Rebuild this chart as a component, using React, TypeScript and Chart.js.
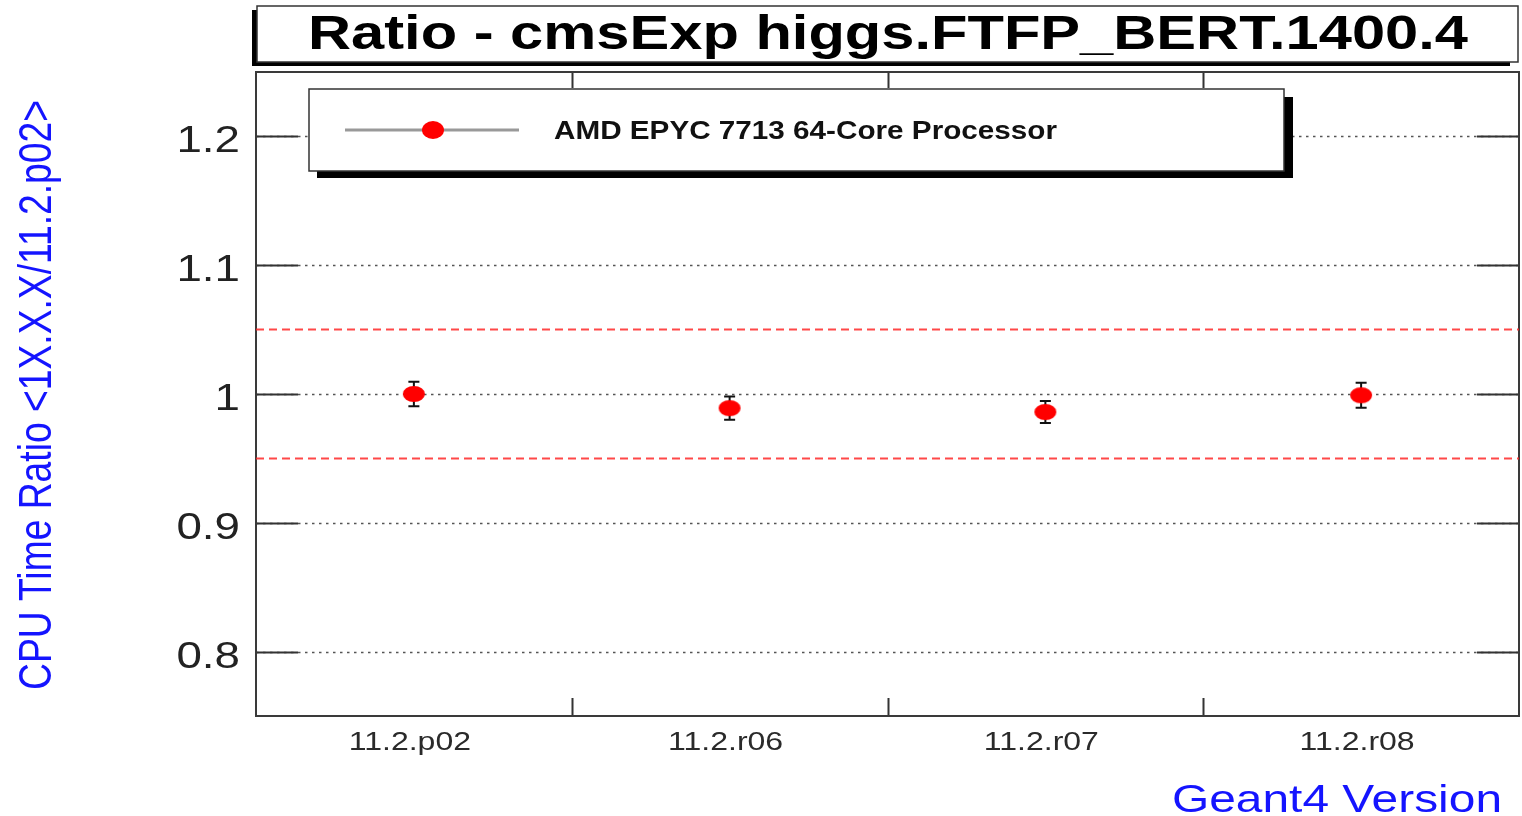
import React, { useEffect, useRef } from "react";
import { Chart, registerables } from "chart.js";

Chart.register(...registerables);

// ---------- data ----------
const versions = ["11.2.p02", "11.2.r06", "11.2.r07", "11.2.r08"];
const ratios = [1.0, 0.989, 0.986, 0.999];
const errors = [0.0095, 0.009, 0.0085, 0.0097];
const yTickValues = [0.8, 0.9, 1.0, 1.1, 1.2];
const yTickLabels = ["0.8", "0.9", "1", "1.1", "1.2"];
const limitValues = [1.05, 0.95];
const titleText = "Ratio - cmsExp higgs.FTFP_BERT.1400.4";
const legendLabel = "AMD EPYC 7713 64-Core Processor";
const yAxisTitle = "CPU Time Ratio <1X.X.X/11.2.p02>";
const xAxisTitle = "Geant4 Version";

const FONT = '"Liberation Sans", Arial, Helvetica, sans-serif';

function makeMarker(rx: number, ry: number): HTMLCanvasElement {
  const c = document.createElement("canvas");
  c.width = rx * 2 + 2;
  c.height = ry * 2 + 2;
  const g = c.getContext("2d")!;
  g.fillStyle = "#ff0000";
  g.beginPath();
  g.ellipse(rx + 1, ry + 1, rx, ry, 0, 0, Math.PI * 2);
  g.fill();
  return c;
}

type TextOpts = {
  font: string;
  color: string;
  align: CanvasTextAlign;
  sx?: number;
  sy?: number;
  width?: number;
  rotate?: number;
};

function drawText(ctx: CanvasRenderingContext2D, text: string, x: number, y: number, o: TextOpts) {
  ctx.save();
  ctx.translate(x, y);
  if (o.rotate) ctx.rotate(o.rotate);
  ctx.font = o.font;
  const w = ctx.measureText(text).width;
  const sx = o.width ? o.width / w : o.sx || 1;
  ctx.scale(sx, o.sy || 1);
  ctx.textAlign = o.align;
  ctx.textBaseline = "alphabetic";
  ctx.fillStyle = o.color;
  ctx.fillText(text, 0, 0);
  ctx.restore();
}

export default function App() {
  const ref = useRef<HTMLCanvasElement | null>(null);

  useEffect(() => {
    if (!ref.current) return;
    const marker = makeMarker(11, 8);
    const legendMarker = makeMarker(11, 9);

    const rootPlugin = {
      id: "rootStyle",
      beforeDatasetsDraw(chart: any) {
        const ctx: CanvasRenderingContext2D = chart.ctx;
        const { left, right, top, bottom } = chart.chartArea;
        const xs = chart.scales.x;
        const ys = chart.scales.y;

        yTickValues.forEach((v, i) => {
          const py = Math.round(ys.getPixelForValue(v)) + 0.5;
          ctx.save();
          ctx.strokeStyle = "#555";
          ctx.lineWidth = 1.5;
          ctx.setLineDash([2.5, 4.5]);
          ctx.beginPath();
          ctx.moveTo(left, py);
          ctx.lineTo(right, py);
          ctx.stroke();
          ctx.setLineDash([]);
          ctx.strokeStyle = "#333";
          ctx.lineWidth = 2;
          ctx.beginPath();
          ctx.moveTo(left, py);
          ctx.lineTo(left + 42, py);
          ctx.moveTo(right - 42, py);
          ctx.lineTo(right, py);
          ctx.stroke();
          ctx.restore();
          drawText(ctx, yTickLabels[i], 240, py + 15, {
            font: `36px ${FONT}`,
            color: "#222",
            align: "right",
            sx: 1.27,
          });
        });

        ctx.save();
        ctx.strokeStyle = "#333";
        ctx.lineWidth = 2;
        for (let b = 1; b < versions.length; b++) {
          const px = Math.round(xs.getPixelForValue(b)) + 0.5;
          ctx.beginPath();
          ctx.moveTo(px, bottom);
          ctx.lineTo(px, bottom - 18);
          ctx.moveTo(px, top);
          ctx.lineTo(px, top + 16);
          ctx.stroke();
        }
        ctx.restore();

        versions.forEach((v, i) => {
          const px = xs.getPixelForValue(i + 0.5);
          drawText(ctx, v, px - 4, 750, {
            font: `25px ${FONT}`,
            color: "#2a2a2a",
            align: "center",
            sx: 1.28,
          });
        });

        ctx.save();
        ctx.strokeStyle = "#3a3a3a";
        ctx.lineWidth = 2;
        ctx.strokeRect(left, top, right - left, bottom - top);
        ctx.restore();

        ctx.save();
        ctx.strokeStyle = "#111";
        ctx.lineWidth = 2;
        ratios.forEach((r, i) => {
          const px = xs.getPixelForValue(i + 0.5);
          const y1 = ys.getPixelForValue(r + errors[i]);
          const y2 = ys.getPixelForValue(r - errors[i]);
          ctx.beginPath();
          ctx.moveTo(px, y1);
          ctx.lineTo(px, y2);
          ctx.moveTo(px - 5.5, y1);
          ctx.lineTo(px + 5.5, y1);
          ctx.moveTo(px - 5.5, y2);
          ctx.lineTo(px + 5.5, y2);
          ctx.stroke();
        });
        ctx.restore();

        drawText(ctx, xAxisTitle, 1502, 812, {
          font: `39px ${FONT}`,
          color: "#1414ff",
          align: "right",
          width: 330,
        });
        drawText(ctx, yAxisTitle, 51, 395, {
          font: `37px ${FONT}`,
          color: "#1414ff",
          align: "center",
          width: 590,
          sy: 1.25,
          rotate: -Math.PI / 2,
        });
      },
      afterDatasetsDraw(chart: any) {
        const ctx: CanvasRenderingContext2D = chart.ctx;
        ctx.save();
        ctx.fillStyle = "#000";
        ctx.fillRect(252, 10, 1510 - 252, 66 - 10);
        ctx.fillStyle = "#fff";
        ctx.fillRect(257, 6, 1518 - 257, 62 - 6);
        ctx.strokeStyle = "#333";
        ctx.lineWidth = 1.5;
        ctx.strokeRect(257, 6, 1518 - 257, 62 - 6);
        ctx.restore();
        drawText(ctx, titleText, 888, 49, {
          font: `bold 49px ${FONT}`,
          color: "#000",
          align: "center",
          width: 1160,
        });

        ctx.save();
        ctx.fillStyle = "#000";
        ctx.fillRect(317, 97, 1293 - 317, 178 - 97);
        ctx.fillStyle = "#fff";
        ctx.fillRect(309, 89, 1284 - 309, 171 - 89);
        ctx.strokeStyle = "#333";
        ctx.lineWidth = 1.5;
        ctx.strokeRect(309, 89, 1284 - 309, 171 - 89);
        ctx.strokeStyle = "#999";
        ctx.lineWidth = 3;
        ctx.beginPath();
        ctx.moveTo(345, 130);
        ctx.lineTo(519, 130);
        ctx.stroke();
        ctx.drawImage(legendMarker, 433 - 12, 130 - 10);
        ctx.restore();
        drawText(ctx, legendLabel, 554, 139, {
          font: `bold 25px ${FONT}`,
          color: "#111",
          align: "left",
          width: 503,
        });
      },
    };

    const chart = new Chart(ref.current, {
      type: "scatter",
      data: {
        datasets: [
          ...limitValues.map((v) => ({
            label: "limit " + v,
            data: [
              { x: 0, y: v },
              { x: versions.length, y: v },
            ],
            showLine: true,
            borderColor: "rgba(255,40,40,0.85)",
            borderWidth: 2,
            borderDash: [8, 5],
            pointRadius: 0,
            fill: false,
          })),
          {
            label: legendLabel,
            data: ratios.map((r, i) => ({ x: i + 0.5, y: r })),
            showLine: false,
            pointStyle: marker as any,
            pointRadius: 10,
            backgroundColor: "#ff0000",
            borderColor: "#ff0000",
          },
        ],
      },
      options: {
        responsive: false,
        animation: false,
        events: [],
        layout: { autoPadding: false, padding: { left: 256, right: 3, top: 72, bottom: 100 } },
        plugins: {
          legend: { display: false },
          tooltip: { enabled: false },
          title: { display: false },
        },
        scales: {
          x: { type: "linear", min: 0, max: versions.length, display: false },
          y: { type: "linear", min: 0.75, max: 1.25, display: false },
        },
      },
      plugins: [rootPlugin],
    } as any);

    return () => chart.destroy();
  }, []);

  return (
    <div style={{ position: "fixed", left: 0, top: 0, width: 1522, height: 816, background: "#fff" }}>
      <canvas ref={ref} width={1522} height={816} style={{ display: "block" }} />
    </div>
  );
}
